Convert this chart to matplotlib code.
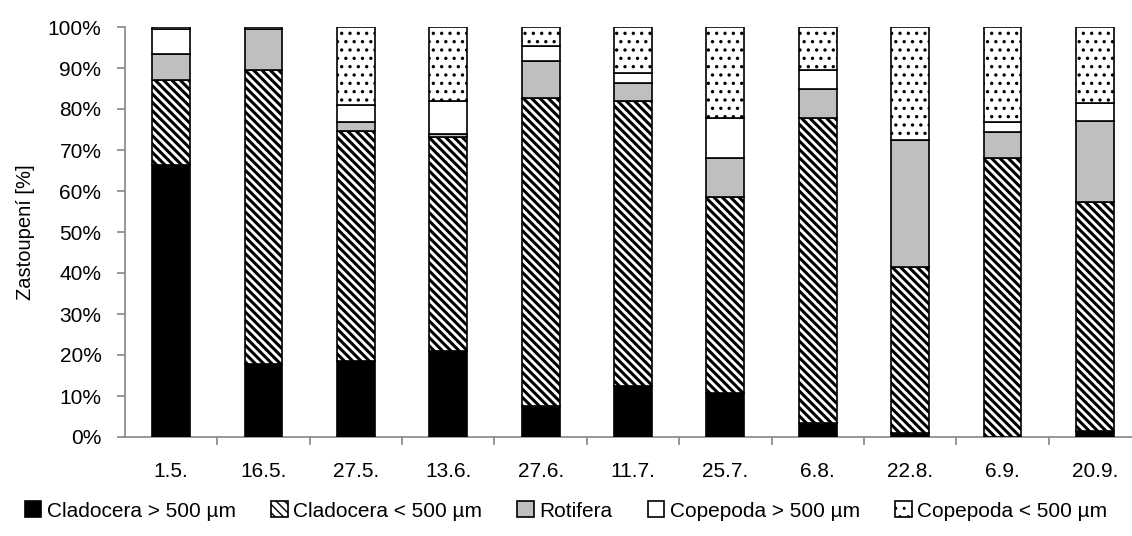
import numpy as np
import matplotlib
matplotlib.use('Agg')
import matplotlib.pyplot as plt
from matplotlib.ticker import PercentFormatter

plt.rcParams['font.family'] = ['Liberation Sans', 'DejaVu Sans']

dates = ['1.5.', '16.5.', '27.5.', '13.6.', '27.6.', '11.7.', '25.7.', '6.8.', '22.8.', '6.9.', '20.9.']
# podíly skupin [%]
clad_big = [66.3, 17.8, 18.5, 21.0, 7.6, 12.4, 10.8, 3.5, 1.0, 0.0, 1.5]
clad_small = [20.8, 71.7, 56.1, 52.2, 75.2, 69.6, 47.7, 74.4, 40.5, 68.1, 55.8]
rotifera = [6.2, 9.9, 2.2, 0.6, 9.0, 4.4, 9.5, 7.0, 30.9, 6.2, 19.8]
cope_big = [6.1, 0.2, 4.2, 8.2, 3.6, 2.5, 9.9, 4.6, 0.0, 2.5, 4.4]
cope_small = [0.6, 0.4, 19.0, 18.0, 4.6, 11.1, 22.1, 10.5, 27.6, 23.2, 18.5]

series = [
    ('Cladocera > 500 µm', clad_big, 'black', None, 1.0),
    ('Cladocera < 500 µm', clad_small, 'white', '\\\\\\\\', 2.2),
    ('Rotifera', rotifera, '#bfbfbf', None, 1.0),
    ('Copepoda > 500 µm', cope_big, 'white', None, 1.0),
    ('Copepoda < 500 µm', cope_small, 'white', '..', 1.2),
]

fig = plt.figure(figsize=(11.32, 5.36), dpi=100)
ax = fig.add_axes([125 / 1132, 1 - 437 / 536, 1016 / 1132, 410 / 536])

x = np.arange(len(dates))
bottom = np.zeros(len(dates))
for name, vals, col, hatch, hlw in series:
    with plt.rc_context({'hatch.linewidth': hlw}):
        ax.bar(x, vals, 0.41, bottom=bottom, color=col, edgecolor='black',
               linewidth=1.2, hatch=hatch, label=name, zorder=3)
    bottom += np.array(vals)

ax.set_xlim(-0.5, len(dates) - 0.5)
ax.set_ylim(0, 100)
ax.set_yticks(np.arange(0, 101, 10))
ax.yaxis.set_major_formatter(PercentFormatter(decimals=0))
ax.set_xticks(x)
ax.set_xticklabels(dates)
ax.set_xticks(np.arange(0.5, len(dates) - 0.5, 1), minor=True)
ax.tick_params(axis='x', which='major', length=0, pad=18, labelsize=15)
ax.tick_params(axis='x', which='minor', length=6, color='#868686', width=1.2)
ax.tick_params(axis='y', length=6, color='#868686', width=1.2, pad=11, labelsize=15)

for s in ['top', 'right']:
    ax.spines[s].set_visible(False)
for s in ['left', 'bottom']:
    ax.spines[s].set_color('#868686')
    ax.spines[s].set_linewidth(1.2)

ax.set_ylabel('Zastoupení [%]', fontsize=14.5, labelpad=9)

fig.legend(loc='center', bbox_to_anchor=(0.5, 1 - 511 / 536), ncol=5, frameon=False,
           fontsize=15, handlelength=0.8, handleheight=0.8, handletextpad=0.25,
           columnspacing=1.7)

fig.savefig('out.png', dpi=100)
